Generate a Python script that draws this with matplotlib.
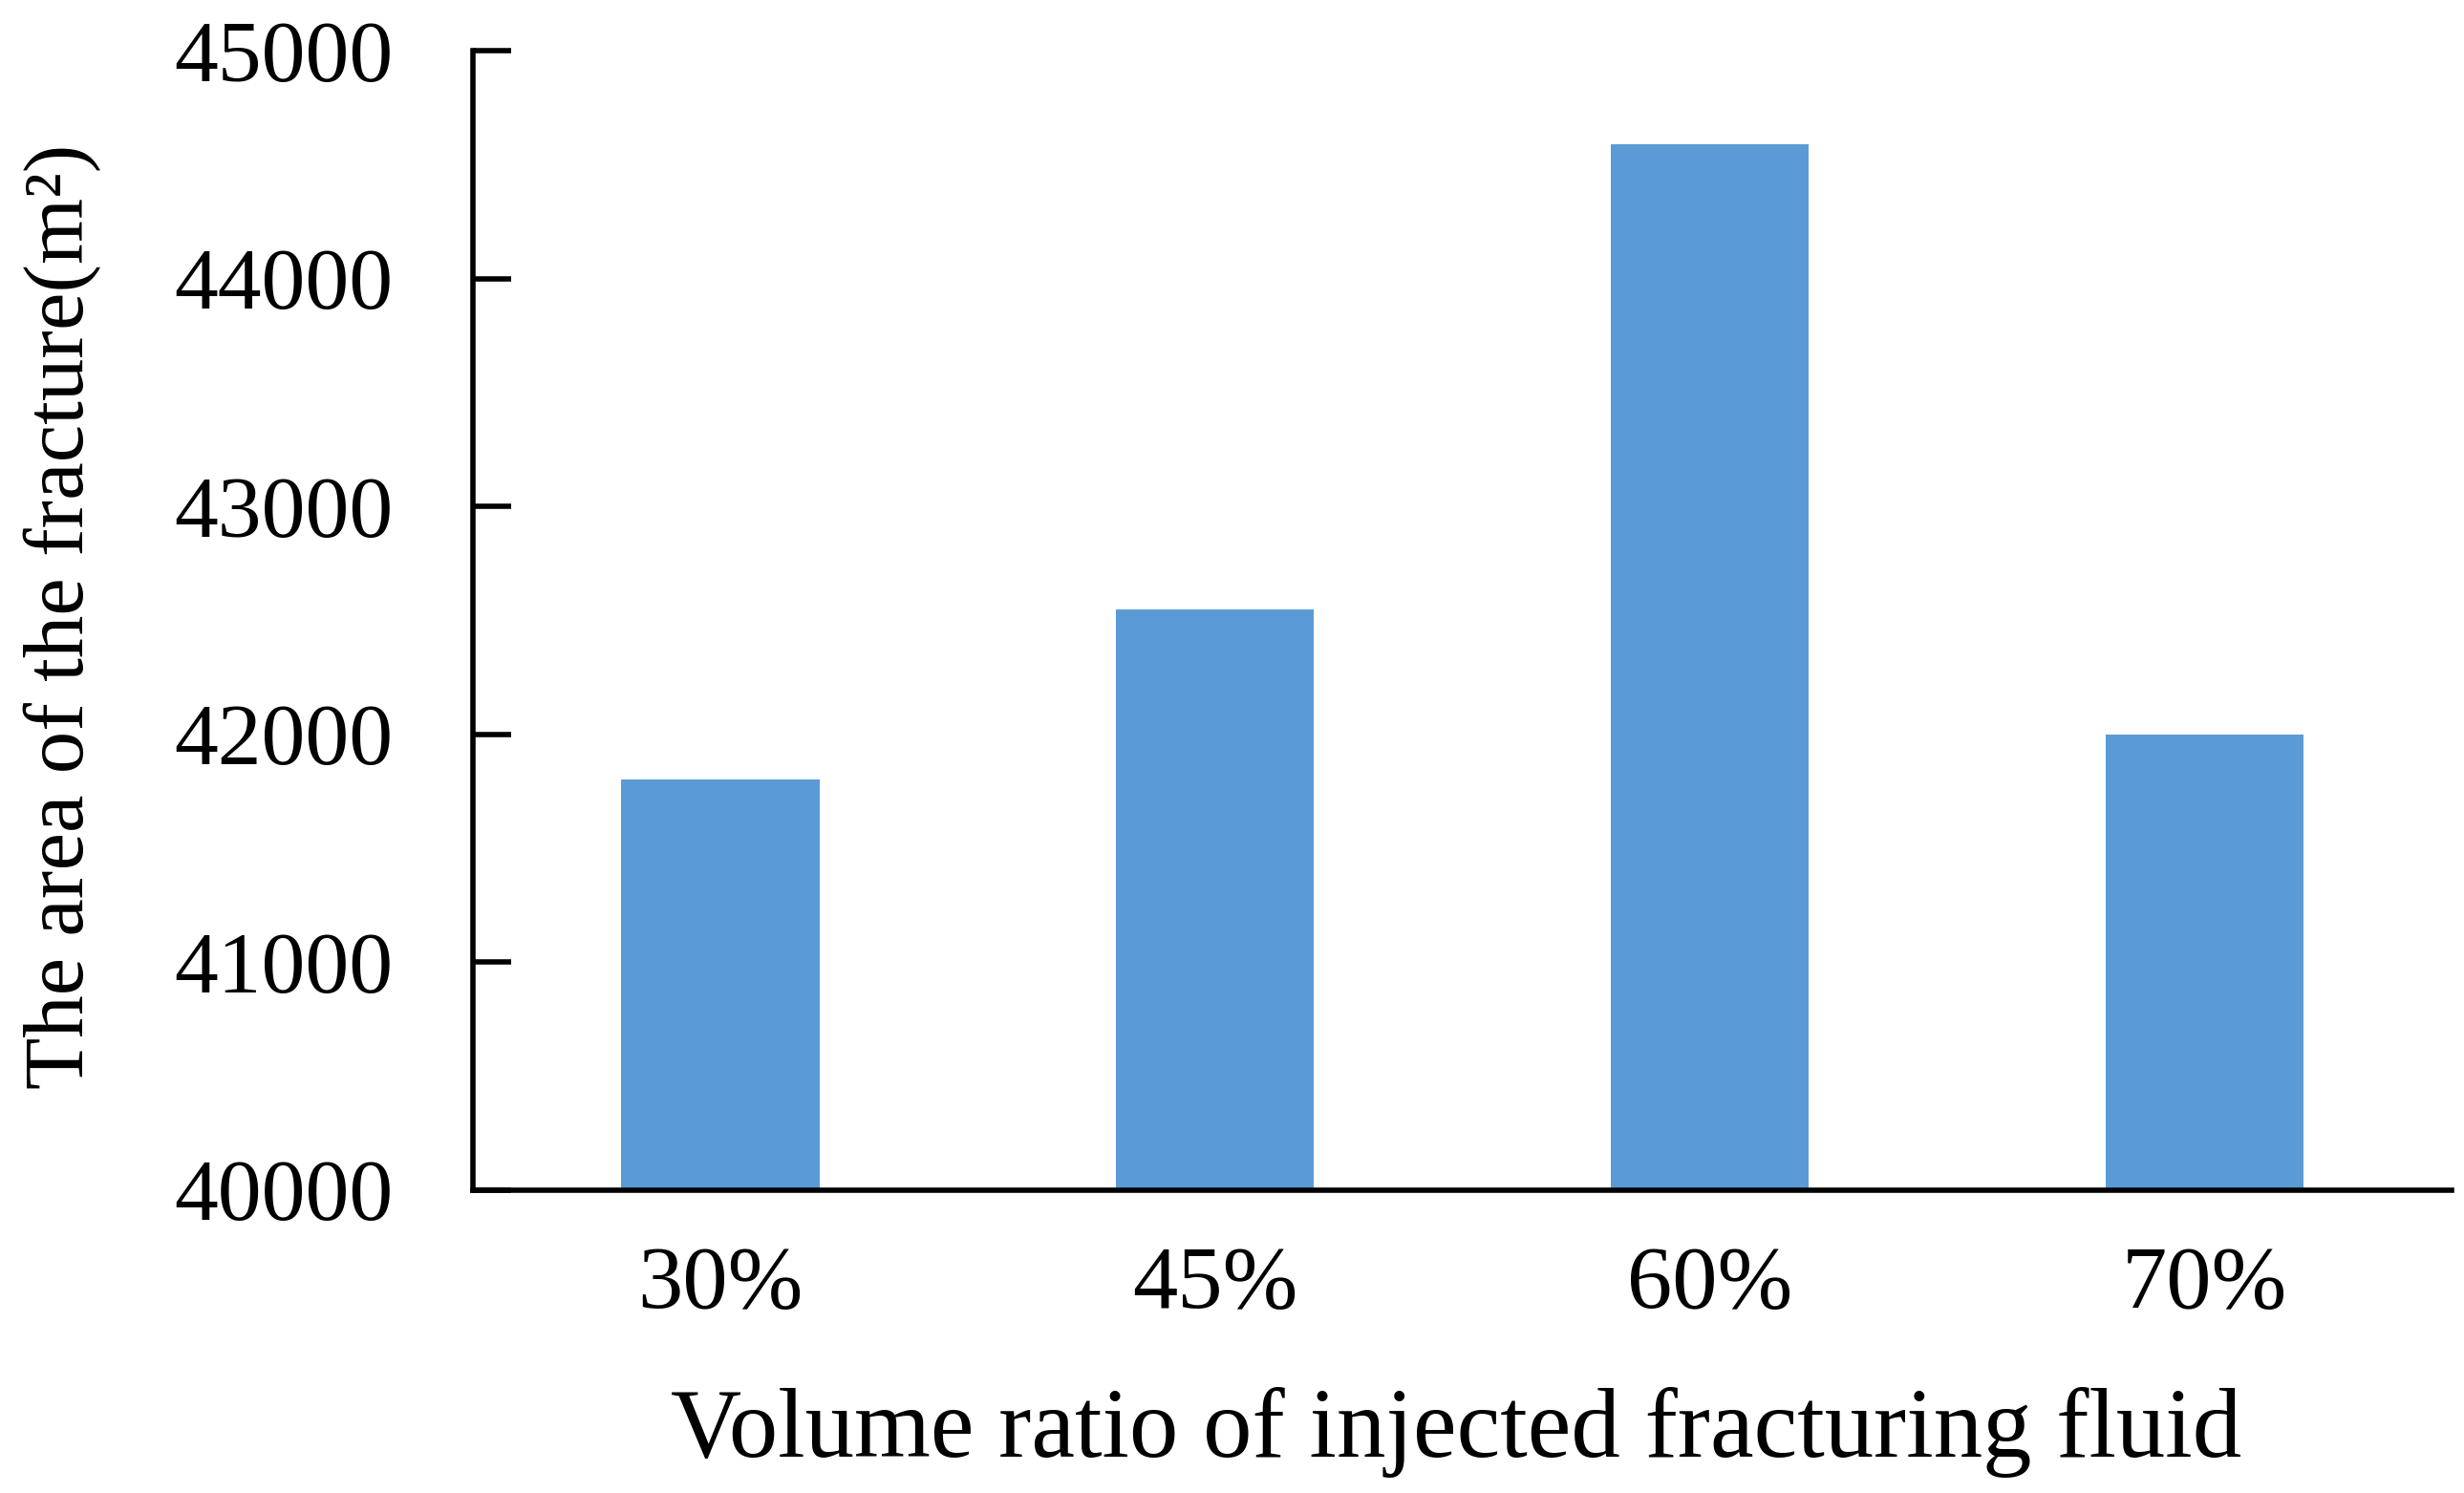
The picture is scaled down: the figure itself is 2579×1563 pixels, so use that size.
import matplotlib
matplotlib.use("Agg")
import matplotlib.pyplot as plt

categories = ["30%", "45%", "60%", "70%"]
areas = [41800, 42550, 44590, 42000]
yticks = [40000, 41000, 42000, 43000, 44000, 45000]

plt.rcParams['font.family'] = ['Liberation Serif', 'DejaVu Serif']

fig = plt.figure(figsize=(25.79, 15.63), dpi=100)
ax = fig.add_axes([0.192, 0.203, 0.803, 0.763])

x = list(range(len(categories)))
ax.bar(x, areas, width=0.4, color="#5B9BD5", zorder=2)

ax.set_xlim(-0.5, 3.5)
ax.set_ylim(40000, 45000)
ax.set_yticks(yticks)
ax.set_yticklabels([str(v) for v in yticks])
ax.set_xticks(x)
ax.set_xticklabels(categories)

for s in ['top', 'right']:
    ax.spines[s].set_visible(False)
for s in ['left', 'bottom']:
    ax.spines[s].set_linewidth(4)
    ax.spines[s].set_color('black')

ax.tick_params(axis='y', direction='in', length=29, width=4, pad=60, labelsize=66)
ax.tick_params(axis='x', length=0, pad=42, labelsize=68)

ax.set_xlabel("Volume ratio of injected fracturing fluid", fontsize=74)
ax.xaxis.label.set_va('center')
ax.xaxis.set_label_coords(0.497, -0.213)

ax.set_ylabel("The area of the fracture(m²)", fontsize=64)
ax.yaxis.label.set_va('center')
ax.yaxis.set_label_coords(-0.2075, 0.503)

fig.savefig("out.png", dpi=100, facecolor='white')
